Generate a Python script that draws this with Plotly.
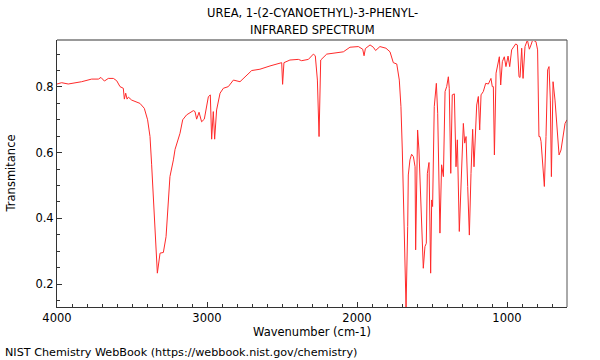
import plotly.graph_objects as go

wavenumber = [4000, 3969, 3925, 3836, 3769, 3724, 3707, 3684, 3658, 3624, 3602, 3580, 3558, 3551, 3542, 3533, 3524, 3502,
              3447, 3418, 3396, 3380, 3369, 3358, 3347, 3331, 3313, 3291, 3273, 3258, 3247, 3224, 3213, 3180, 3162, 3136,
              3091, 3080, 3069, 3053, 3036, 3018, 2991, 2978, 2969, 2958, 2949, 2936, 2913, 2891, 2858, 2824, 2780, 2702,
              2647, 2580, 2513, 2502, 2496, 2487, 2447, 2391, 2369, 2324, 2291, 2278, 2264, 2253, 2242, 2202, 2091, 2047,
              1991, 1962, 1953, 1944, 1913, 1891, 1876, 1847, 1807, 1780, 1758, 1735, 1718, 1707, 1698, 1685, 1673, 1662,
              1658, 1647, 1636, 1624, 1613, 1609, 1596, 1587, 1573, 1558, 1547, 1538, 1531, 1520, 1509, 1502, 1496, 1485,
              1471, 1462, 1447, 1436, 1424, 1413, 1402, 1391, 1385, 1375, 1365, 1351, 1340, 1331, 1318, 1302, 1291, 1282,
              1273, 1262, 1251, 1240, 1229, 1220, 1209, 1202, 1191, 1182, 1173, 1158, 1142, 1124, 1107, 1098, 1091, 1084,
              1073, 1058, 1051, 1042, 1031, 1018, 1007, 993, 982, 969, 942, 931, 920, 913, 907, 902, 893, 880, 864, 851,
              840, 829, 807, 796, 787, 780, 773, 760, 751, 740, 729, 720, 711, 704, 693, 680, 667, 653, 640, 627, 613, 600]
transmittance = [0.809, 0.813, 0.809, 0.816, 0.824, 0.824, 0.829, 0.818, 0.826, 0.826, 0.819, 0.801, 0.796, 0.763, 0.781,
                 0.763, 0.769, 0.760, 0.750, 0.735, 0.700, 0.649, 0.563, 0.456, 0.356, 0.233, 0.294, 0.296, 0.344, 0.456,
                 0.527, 0.578, 0.610, 0.659, 0.700, 0.715, 0.728, 0.725, 0.702, 0.723, 0.694, 0.702, 0.770, 0.776, 0.641,
                 0.725, 0.641, 0.730, 0.781, 0.796, 0.801, 0.821, 0.816, 0.850, 0.854, 0.864, 0.874, 0.874, 0.808, 0.874,
                 0.882, 0.884, 0.880, 0.884, 0.900, 0.895, 0.821, 0.649, 0.882, 0.900, 0.907, 0.921, 0.923, 0.915, 0.895,
                 0.917, 0.928, 0.921, 0.911, 0.923, 0.918, 0.907, 0.874, 0.870, 0.821, 0.740, 0.608, 0.334, 0.128, 0.375,
                 0.532, 0.578, 0.595, 0.588, 0.557, 0.304, 0.669, 0.608, 0.405, 0.248, 0.314, 0.324, 0.537, 0.570, 0.233,
                 0.456, 0.436, 0.740, 0.811, 0.720, 0.355, 0.563, 0.527, 0.786, 0.801, 0.831, 0.796, 0.537, 0.776, 0.779,
                 0.557, 0.639, 0.360, 0.588, 0.689, 0.629, 0.649, 0.497, 0.349, 0.537, 0.671, 0.557, 0.710, 0.745, 0.771,
                 0.669, 0.776, 0.786, 0.811, 0.809, 0.826, 0.801, 0.801, 0.593, 0.842, 0.877, 0.892, 0.806, 0.877, 0.892,
                 0.862, 0.894, 0.862, 0.913, 0.931, 0.928, 0.831, 0.829, 0.915, 0.918, 0.826, 0.923, 0.943, 0.915, 0.928,
                 0.943, 0.938, 0.913, 0.649, 0.649, 0.634, 0.547, 0.497, 0.649, 0.852, 0.862, 0.760, 0.527, 0.816, 0.760,
                 0.669, 0.593, 0.608, 0.649, 0.689, 0.700]

title_lines = ["UREA, 1-(2-CYANOETHYL)-3-PHENYL-", "INFRARED SPECTRUM"]
x_title = "Wavenumber (cm-1)"
y_title = "Transmitance"
footer = "NIST Chemistry WebBook (https://webbook.nist.gov/chemistry)"

FONT = "DejaVu Sans"
fs = 11.5

fig = go.Figure()
fig.add_trace(go.Scatter(x=wavenumber, y=transmittance, mode="lines",
                         line=dict(color="#ff2a2a", width=1), showlegend=False, hoverinfo="skip"))

axis_common = dict(showgrid=False, zeroline=False, showline=True, linecolor="#333333", linewidth=1,
                   ticks="inside", ticklen=5, tickcolor="#333333", tickwidth=1,
                   tickfont=dict(family=FONT, size=fs, color="#000000"))

fig.update_xaxes(range=[4000, 600], tick0=0, dtick=1000,
                 minor=dict(dtick=100, ticks="inside", ticklen=3, tickcolor="#333333"),
                 **axis_common)
fig.update_yaxes(range=[0.13, 0.943], tick0=0, dtick=0.2, tickformat=".1f",
                 minor=dict(dtick=0.05, ticks="inside", ticklen=3, tickcolor="#333333"),
                 **axis_common)

annotations = [
    dict(text=title_lines[0], x=0.5, y=1, xref="paper", yref="paper", yshift=27, showarrow=False,
         xanchor="center", yanchor="middle", font=dict(family=FONT, size=fs, color="#000")),
    dict(text=title_lines[1], x=0.5, y=1, xref="paper", yref="paper", yshift=10, showarrow=False,
         xanchor="center", yanchor="middle", font=dict(family=FONT, size=fs, color="#000")),
    dict(text=x_title, x=0.5, y=0, xref="paper", yref="paper", yshift=-25, showarrow=False,
         xanchor="center", yanchor="middle", font=dict(family=FONT, size=fs, color="#000")),
    dict(text=y_title, x=0, y=0.5, xref="paper", yref="paper", xshift=-47, showarrow=False, textangle=-90,
         xanchor="center", yanchor="middle", font=dict(family=FONT, size=fs, color="#000")),
    dict(text=footer, x=0, y=0, xref="paper", yref="paper", xshift=-54, yshift=-45, showarrow=False,
         xanchor="left", yanchor="middle", font=dict(family=FONT, size=11.2, color="#000")),
]

shapes = [
    dict(type="line", xref="paper", yref="paper", x0=0, x1=1, y0=1, y1=1, line=dict(color="#999999", width=2)),
    dict(type="line", xref="paper", yref="paper", x0=1, x1=1, y0=0, y1=1, line=dict(color="#555555", width=1)),
]

fig.update_layout(width=600, height=360, margin=dict(l=57, r=33, t=40, b=53),
                  paper_bgcolor="white", plot_bgcolor="white",
                  font=dict(family=FONT, size=fs, color="#000"),
                  annotations=annotations, shapes=shapes)

fig.write_html("out.html")
